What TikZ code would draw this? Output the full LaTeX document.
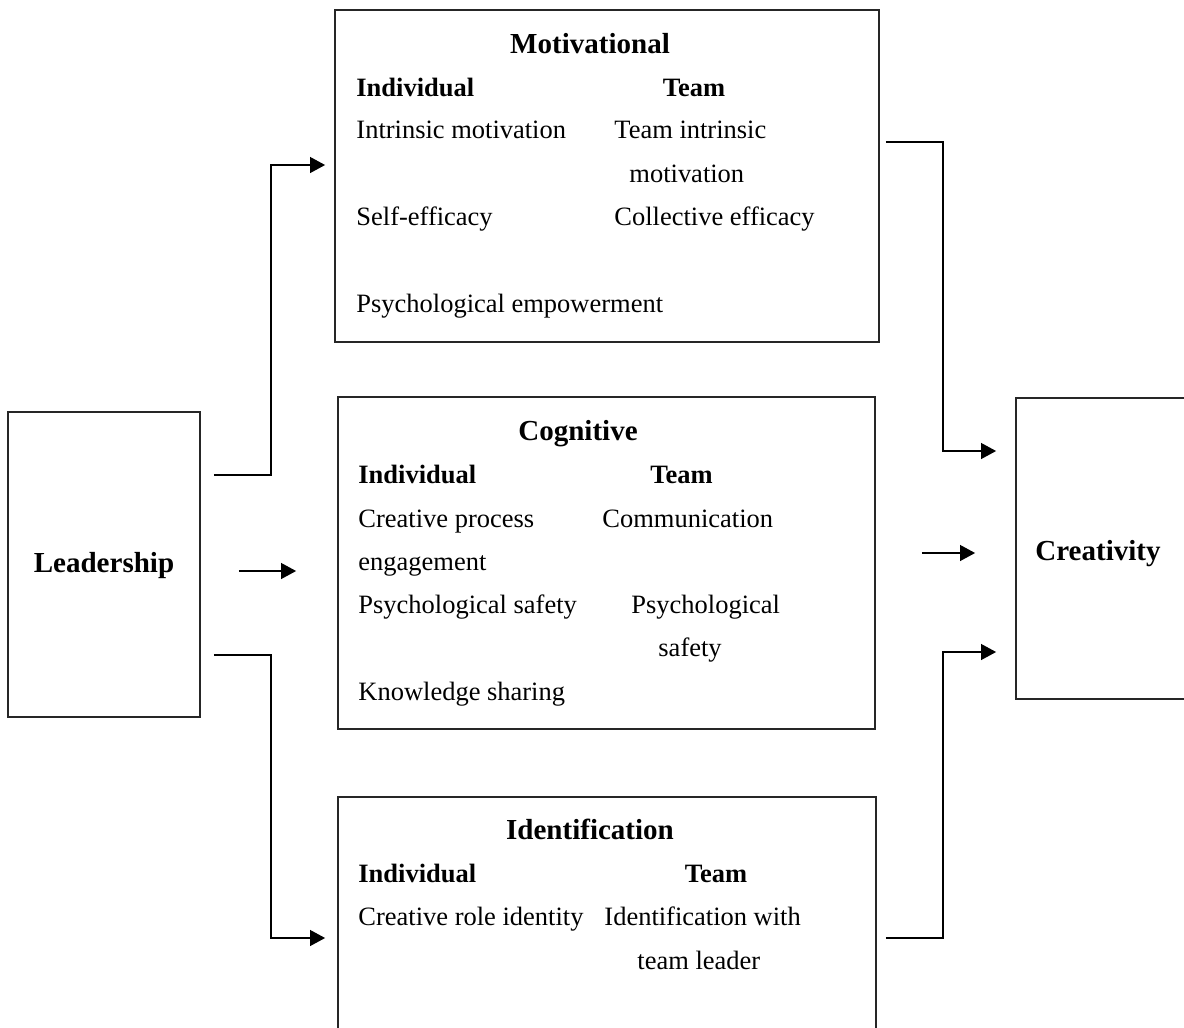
\documentclass[tikz,border=0pt]{standalone}
\usepackage{fontspec}
\setmainfont{Liberation Serif}
\usepackage{tikz}
\usetikzlibrary{shapes,arrows,arrows.meta,positioning}
\newcommand{\pxu}{0.4513pt}
\newcommand{\bodyfont}{\fontsize{11.95pt}{14pt}\selectfont}
\newcommand{\bigfont}{\fontsize{13.1pt}{16pt}\selectfont\bfseries}
\tikzstyle{block} = [rectangle, draw=black!85, line width=0.8pt, inner sep=0pt]
\tikzstyle{heading} = [font=\bigfont, inner sep=0pt, anchor=base]
\tikzstyle{colhead} = [font=\bodyfont\bfseries, inner sep=0pt, anchor=base]
\tikzstyle{entry} = [font=\bodyfont, inner sep=0pt, anchor=base west]
\tikzstyle{line} = [draw, line width=0.6pt, -{Triangle[length=6.8pt,width=7.2pt]}]

\begin{document}
\begin{tikzpicture}[x=0.4513pt, y=-0.4513pt]
    \useasboundingbox (0,0) rectangle (1184,1028);

    % boxes
    \node [block, minimum width=192*\pxu, minimum height=305*\pxu] (lead) at (104,564.5) {};
    \node [block, minimum width=544*\pxu, minimum height=332*\pxu] (motiv) at (607,176) {};
    \node [block, minimum width=537*\pxu, minimum height=332*\pxu] (cogn) at (606.5,563) {};
    \node [block, minimum width=538*\pxu, minimum height=248*\pxu] (ident) at (607,921) {};
    \node [block, minimum width=176*\pxu, minimum height=301*\pxu] (creat) at (1104,548.5) {};

    \node [heading] (lead-text) at (104,572) {Leadership};
    \node [heading] (creat-text) at (1098,560) {Creativity};

    % motivational
    \node [heading] (motiv-title) at (590,53) {Motivational};
    \node [colhead, anchor=base west] (motiv-ind) at (356,96) {Individual};
    \node [colhead] (motiv-team) at (694,96) {Team};
    \node [entry] (motiv-i1) at (356,138) {Intrinsic motivation};
    \node [entry] (motiv-t1) at (614,138) {Team intrinsic};
    \node [entry] (motiv-t1b) at (629,182) {motivation};
    \node [entry] (motiv-i2) at (356,225) {Self-efficacy};
    \node [entry] (motiv-t2) at (614,225) {Collective efficacy};
    \node [entry] (motiv-i3) at (356,312) {Psychological empowerment};

    % cognitive
    \node [heading] (cogn-title) at (578,440) {Cognitive};
    \node [colhead, anchor=base west] (cogn-ind) at (358,483) {Individual};
    \node [colhead] (cogn-team) at (681.5,483) {Team};
    \node [entry] (cogn-i1) at (358,527) {Creative process};
    \node [entry] (cogn-i1b) at (358,570) {engagement};
    \node [entry] (cogn-t1) at (602,527) {Communication};
    \node [entry] (cogn-i2) at (358,613) {Psychological safety};
    \node [entry] (cogn-t2) at (631,613) {Psychological};
    \node [entry] (cogn-t2b) at (658,656) {safety};
    \node [entry] (cogn-i3) at (358,700) {Knowledge sharing};

    % identification
    \node [heading] (ident-title) at (590,839) {Identification};
    \node [colhead, anchor=base west] (ident-ind) at (358,882) {Individual};
    \node [colhead] (ident-team) at (716,882) {Team};
    \node [entry] (ident-i1) at (358,925) {Creative role identity};
    \node [entry] (ident-t1) at (604,925) {Identification with};
    \node [entry] (ident-t1b) at (637,969) {team leader};

    % connectors
    \coordinate (midL) at ([yshift=-6.5*\pxu]lead.east);
    \coordinate (midR) at ([yshift=10*\pxu]cogn.east);

    \path [line, shorten <=13*\pxu, shorten >=9*\pxu] ([yshift=89.5*\pxu]lead.east) -- ++(70,0) |- ([yshift=11*\pxu]motiv.west);
    \path [line, shorten <=38*\pxu, shorten >=41*\pxu] (midL) -- (midL -| cogn.west);
    \path [line, shorten <=13*\pxu, shorten >=12*\pxu] ([yshift=-90.5*\pxu]lead.east) -- ++(70,0) |- ([yshift=-17*\pxu]ident.west);

    \path [line, shorten <=6*\pxu, shorten >=19*\pxu] ([yshift=34*\pxu]motiv.east) -- ++(63,0) |- ([yshift=97.5*\pxu]creat.west);
    \path [line, shorten <=46*\pxu, shorten >=40*\pxu] (midR) -- (midR -| creat.west);
    \path [line, shorten <=9*\pxu, shorten >=19*\pxu] ([yshift=-17*\pxu]ident.east) -- ++(66,0) |- ([yshift=-103.5*\pxu]creat.west);
\end{tikzpicture}
\end{document}
